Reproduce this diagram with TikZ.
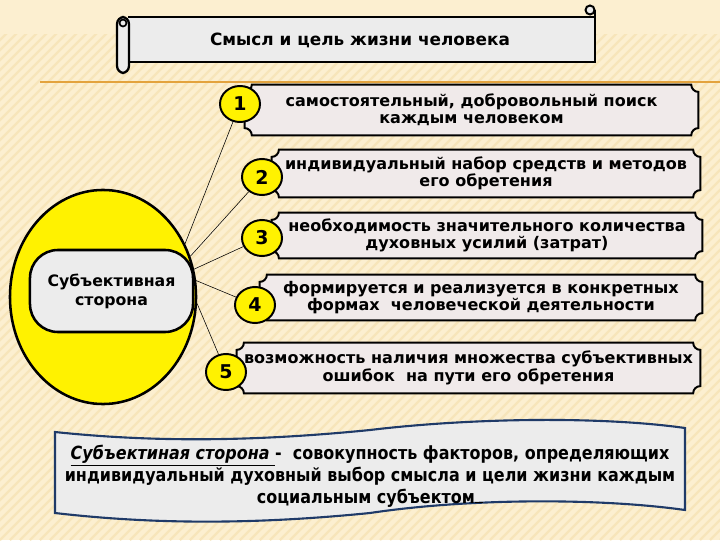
\documentclass[tikz,border=0pt]{standalone}
\usepackage{fontspec}
\setmainfont{DejaVu Sans}
\newfontfamily\condfont{DejaVu Sans}[FakeStretch=0.88]
\usetikzlibrary{shapes.geometric}

\definecolor{cream}{HTML}{FCEFD0}
\definecolor{stripe}{HTML}{F7E5BA}
\definecolor{rule}{HTML}{E3A33E}
\definecolor{plategray}{HTML}{F0EAEA}
\definecolor{silver}{HTML}{ECECEC}
\definecolor{navy}{HTML}{1F3A68}

\pgfdeclarelayer{paperlayer}
\pgfdeclarelayer{platelayer}
\pgfsetlayers{paperlayer,platelayer,main}

% plate with hollow corners round a named node
\newcommand\plate[1]{%
\draw[platepath] ([yshift=-0.18cm]#1.north west) arc[start angle=-90,end angle=0,radius=0.18cm]
  -- ([xshift=-0.18cm]#1.north east) arc[start angle=180,end angle=270,radius=0.18cm]
  -- ([yshift=0.18cm]#1.south east) arc[start angle=90,end angle=180,radius=0.18cm]
  -- ([xshift=0.18cm]#1.south west) arc[start angle=0,end angle=90,radius=0.18cm] -- cycle;}

\begin{document}
\begin{tikzpicture}[x=0.025cm,y=0.025cm,
  platepath/.style={draw=black,line width=1.4pt,fill=plategray},
  platetext/.style={inner sep=0pt,align=center,font=\fontsize{11.4}{12.3}\selectfont\bfseries},
  badge/.style={ellipse,draw=black,line width=1.4pt,fill=yellow,inner sep=0pt,
    minimum width=1cm,minimum height=0.9cm,font=\fontsize{13.5}{13.5}\selectfont\bfseries},
  wire/.style={draw=black,line width=0.4pt}]
\useasboundingbox (0,0) rectangle (720,540);

% background
\begin{pgfonlayer}{paperlayer}
\fill[cream] (0,0) rectangle (720,540);
\begin{scope}
\clip (0,0) rectangle (720,505);
\foreach \s in {-540,-530,...,720}
  \draw[stripe,line width=0.06cm] (\s,0) -- ++(540,540);
\end{scope}
\draw[rule,line width=1.6pt] (40,458) -- (720,458);
\end{pgfonlayer}

% title scroll
\fill[silver] (128,478) rectangle (595,523);
\draw[line width=1.6pt] (128,523) -- (595,523) -- (595,478) -- (128,478);
\draw[line width=1.6pt] (595,523) -- (595,530);
\draw[line width=1.4pt,fill=silver] (590,530) circle[radius=4.5];
\draw[line width=1.6pt,fill=silver,rounded corners=5] (117,467) rectangle (129,523);
\draw[line width=1.2pt] (123,517) circle[radius=3.5];
\node[font=\fontsize{12}{13}\selectfont\bfseries] (title) at (360,500) {Смысл и цель жизни человека};

% left disc
\node[ellipse,draw=black,line width=1.8pt,fill=yellow,minimum width=4.65cm,minimum height=5.35cm] (disc) at (103,243) {};
\node[draw=black,line width=1.8pt,fill=silver,rounded corners=0.7cm,minimum width=4.075cm,minimum height=2.05cm,
  align=center,font=\fontsize{11.2}{13.5}\selectfont\bfseries] (side) at (111.5,249) {Субъективная\\сторона};

% plates
\node[platetext,minimum width=11.33cm,minimum height=1.25cm] (b1) at (471.5,430) {самостоятельный, добровольный поиск\\каждым человеком};
\node[platetext,minimum width=10.7cm,minimum height=1.175cm] (b2) at (486,366.5) {индивидуальный набор средств и методов\\его обретения};
\node[platetext,minimum width=10.75cm,minimum height=1.125cm] (b3) at (487,304.5) {необходимость значительного количества\\духовных усилий (затрат)};
\node[platetext,minimum width=11.05cm,minimum height=1.125cm] (b4) at (481,242.5) {формируется и реализуется в конкретных\\формах~ человеческой деятельности};
\node[platetext,minimum width=11.575cm,minimum height=1.25cm] (b5) at (468.5,172) {возможность наличия множества субъективных\\ошибок~ на пути его обретения};
\begin{pgfonlayer}{platelayer}
\plate{b1}
\plate{b2}
\plate{b3}
\plate{b4}
\plate{b5}
\end{pgfonlayer}

% badges
\node[badge] (n1) at (240,436) {1};
\node[badge] (n2) at (262,363) {2};
\node[badge] (n3) at (262,302) {3};
\node[badge] (n4) at (255,235) {4};
\node[badge] (n5) at (226,168) {5};

\draw[wire] (disc.33) -- (n1);
\draw[wire] (disc.25) -- (n2);
\draw[wire] (disc.17) -- (n3);
\draw[wire] (disc.10) -- (n4);
\draw[wire] (disc.-4) -- (n5);

% definition banner
\draw[navy,line width=1.5pt,fill=silver] (55,108) .. controls (150,98) and (250,98) .. (370,110)
  .. controls (470,122) and (600,124) .. (685,112) -- (685,30)
  .. controls (600,42) and (470,42) .. (370,27)
  .. controls (250,15) and (150,16) .. (55,27) -- cycle;
\node[align=center,font=\condfont\fontsize{12.9}{15}\selectfont\bfseries] (def) at (370,64)
  {\underline{\itshape Субъектиная сторона }-~ совокупность факторов, определяющих\\
   индивидуальный духовный выбор смысла и цели жизни каждым\\
   социальным субъектом\rule{0.45em}{0.07em}};
\end{tikzpicture}
\end{document}
